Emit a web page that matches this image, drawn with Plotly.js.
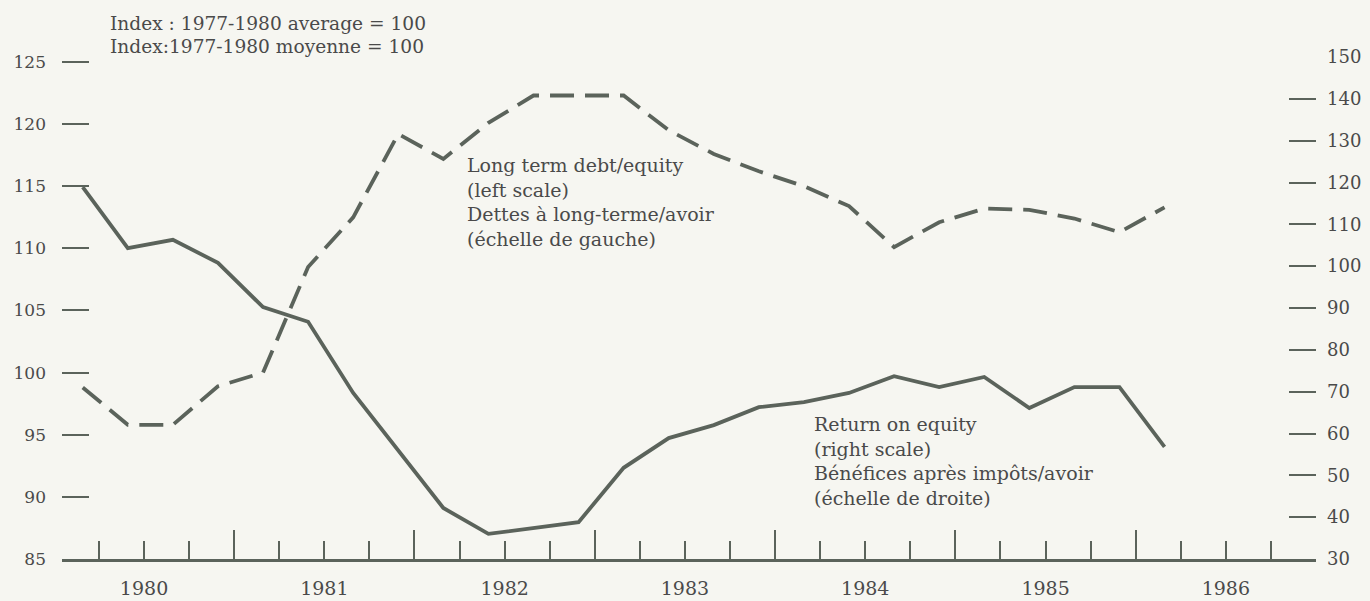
<!DOCTYPE html>
<html>
<head>
<meta charset="utf-8">
<script src="https://cdn.plot.ly/plotly-3.0.1.min.js"></script>
<style>html,body{margin:0;padding:0;background:#f6f6f1;}</style>
</head>
<body>
<div id="chart" style="width:1370px;height:601px;"></div>
<script>
// Quarterly observations, 1980 Q1 to 1986 Q1
const quarters = ["1980Q1","1980Q2","1980Q3","1980Q4",
                  "1981Q1","1981Q2","1981Q3","1981Q4",
                  "1982Q1","1982Q2","1982Q3","1982Q4",
                  "1983Q1","1983Q2","1983Q3","1983Q4",
                  "1984Q1","1984Q2","1984Q3","1984Q4",
                  "1985Q1","1985Q2","1985Q3","1985Q4",
                  "1986Q1"];
// Long term debt/equity (left scale)
const debtEquity = [98.8, 95.8, 95.8, 98.9, 100.0, 108.5, 112.5, 119.2, 117.2, 120.1,
                    122.3, 122.3, 122.3, 119.5, 117.6, 116.2, 115.0, 113.4, 110.1, 112.1,
                    113.2, 113.1, 112.4, 111.3, 113.3];
// Return on equity (right scale)
const returnOnEquity = [118.9, 104.3, 106.3, 100.8, 90.2, 86.7, 69.7, 56.1, 42.2, 36.0,
                        37.4, 38.8, 51.8, 58.9, 62.0, 66.3, 67.5, 69.7, 73.7, 71.1,
                        73.5, 66.1, 71.1, 71.1, 56.8];
const yearLabels = ["1980","1981","1982","1983","1984","1985","1986"];
const leftTicks = [85, 90, 95, 100, 105, 110, 115, 120, 125];
const rightTicks = [30, 40, 50, 60, 70, 80, 90, 100, 110, 120, 130, 140, 150];

const lineColor = '#5b635b';
const textColor = '#4a4a4a';

// position of each quarterly observation on a decimal-year axis
function qpos(label) {
  const yr = parseInt(label.slice(0, 4), 10);
  const q = parseInt(label.slice(5), 10);
  return yr + (q - 1) * 0.25 + 0.16;
}
const xq = quarters.map(qpos);

const years = yearLabels.map(Number);
const yearMid = years.map(y => y + 0.5);
const yearBounds = years.slice(1);
const quarterBounds = [];
years.forEach(y => { [0.25, 0.5, 0.75].forEach(f => quarterBounds.push(y + f)); });

const xr = [1980.045, 1987.0];

const traces = [
  {
    x: xq, y: debtEquity, type: 'scatter', mode: 'lines',
    line: {color: lineColor, width: 3.8, dash: '24px,11px'},
    xaxis: 'x', yaxis: 'y', hoverinfo: 'skip'
  },
  {
    x: xq, y: returnOnEquity, type: 'scatter', mode: 'lines',
    line: {color: lineColor, width: 3.8},
    xaxis: 'x', yaxis: 'y2', hoverinfo: 'skip'
  },
  { // empty trace that only carries the year-label axis
    x: [], y: [], type: 'scatter', mode: 'lines',
    xaxis: 'x2', yaxis: 'y', hoverinfo: 'skip', showlegend: false
  }
];

const layout = {
  width: 1370, height: 601,
  paper_bgcolor: '#f6f6f1', plot_bgcolor: '#f6f6f1',
  margin: {l: 62, r: 54, t: 57, b: 42},
  showlegend: false,
  font: {family: '"DejaVu Serif", serif', color: textColor, size: 17},
  xaxis: {
    range: xr, tickmode: 'array', tickvals: yearBounds,
    ticks: 'inside', ticklen: 29, tickwidth: 2, tickcolor: lineColor,
    showticklabels: false, showgrid: false, zeroline: false,
    showline: true, linecolor: lineColor, linewidth: 2.5,
    minor: {tickmode: 'array', tickvals: quarterBounds, ticks: 'inside', ticklen: 18,
            tickwidth: 2, tickcolor: lineColor, showgrid: false}
  },
  xaxis2: {
    overlaying: 'x', anchor: 'y', side: 'bottom', range: xr,
    tickmode: 'array', tickvals: yearMid, ticktext: yearLabels,
    ticks: '', showline: false, showgrid: false, zeroline: false,
    tickfont: {size: 19, color: textColor}, ticklabelstandoff: 16
  },
  yaxis: {
    range: [85, 125.4], tickmode: 'array', tickvals: leftTicks,
    ticks: 'inside', ticklen: 27, tickwidth: 2, tickcolor: lineColor,
    showline: false, showgrid: false, zeroline: false,
    tickfont: {size: 17, color: textColor}, ticklabelstandoff: 15
  },
  yaxis2: {
    overlaying: 'y', side: 'right', anchor: 'x', range: [30, 150],
    tickmode: 'array', tickvals: rightTicks,
    ticks: 'inside', ticklen: 27, tickwidth: 2, tickcolor: lineColor,
    showline: false, showgrid: false, zeroline: false,
    tickfont: {size: 18, color: textColor}, ticklabelstandoff: 10
  },
  annotations: [
    {text: 'Index : 1977-1980 average = 100', xref: 'paper', yref: 'paper',
     x: 0.0367, y: 1.0677, xanchor: 'left', yanchor: 'middle', showarrow: false,
     font: {size: 18.6, color: textColor}},
    {text: 'Index:1977-1980 moyenne = 100', xref: 'paper', yref: 'paper',
     x: 0.0367, y: 1.0219, xanchor: 'left', yanchor: 'middle', showarrow: false,
     font: {size: 18.6, color: textColor}},
    {text: 'Long term debt/equity<br>(left scale)<br>Dettes à long-terme/avoir<br>(échelle de gauche)',
     xref: 'paper', yref: 'paper', x: 0.3214, y: 0.712, xanchor: 'left', yanchor: 'middle',
     align: 'left', showarrow: false, font: {size: 19, color: textColor}},
    {text: 'Return on equity<br>(right scale)<br>Bénéfices après impôts/avoir<br>(échelle de droite)',
     xref: 'paper', yref: 'paper', x: 0.598, y: 0.196, xanchor: 'left', yanchor: 'middle',
     align: 'left', showarrow: false, font: {size: 19, color: textColor}}
  ]
};

Plotly.newPlot('chart', traces, layout, {displayModeBar: false, responsive: false});
</script>
</body>
</html>
